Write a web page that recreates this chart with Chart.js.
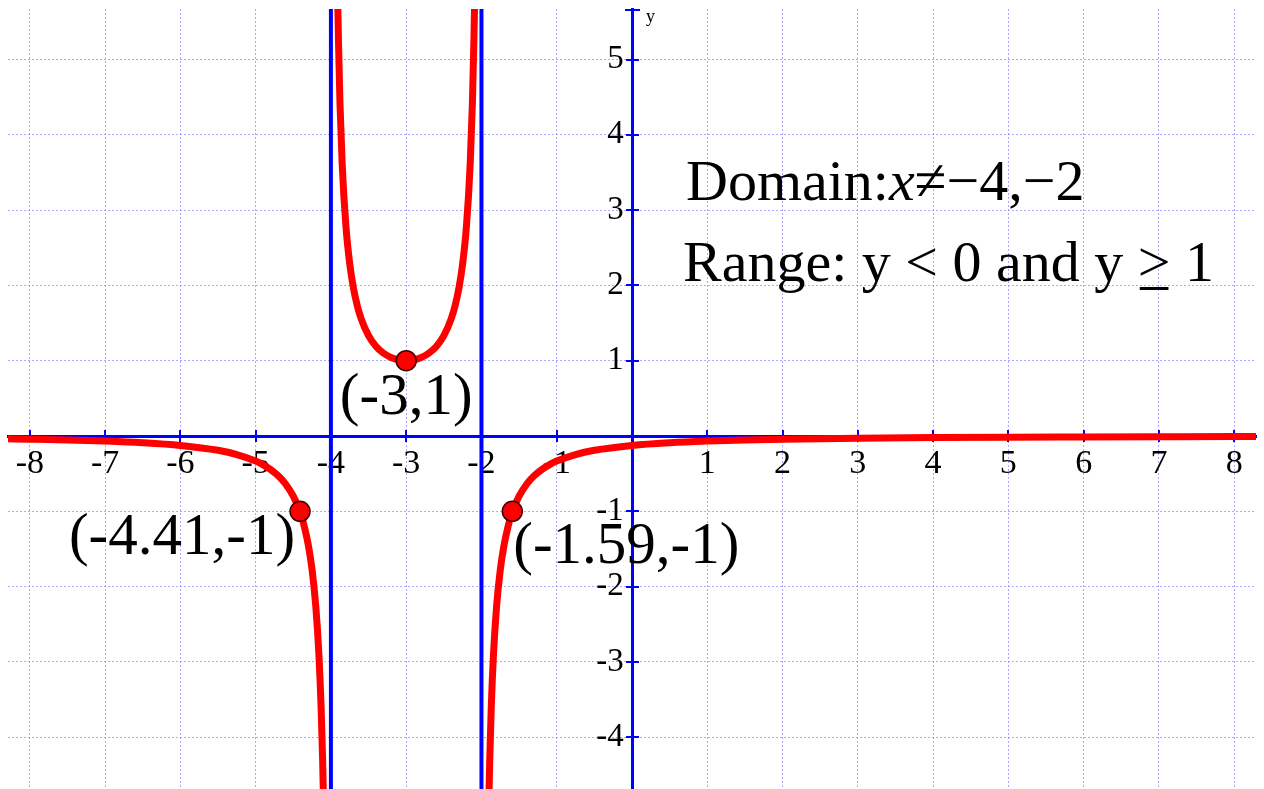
<!DOCTYPE html>
<html><head><meta charset="utf-8">
<script src="https://cdn.jsdelivr.net/npm/chart.js@4.4.1/dist/chart.umd.min.js"></script>
<style>html,body{margin:0;padding:0;background:#fff;overflow:hidden}#wrap{width:1264px;height:789px}</style>
</head><body><div id="wrap"><canvas id="c" width="1264" height="789"></canvas></div>
<script>
// ---- data ----
const leftX  = [-8.3,-8,-7.5,-7,-6.5,-6,-5.5,-5.25,-5,-4.9,-4.8,-4.7,-4.6,-4.5,-4.41,-4.35,-4.3,-4.25,-4.2,-4.16,-4.13,-4.11,-4.1,-4.09];
const leftY  = [-0.037,-0.042,-0.052,-0.067,-0.089,-0.125,-0.19,-0.246,-0.333,-0.383,-0.446,-0.529,-0.641,-0.8,-1,-1.216,-1.449,-1.778,-2.273,-2.894,-3.611,-4.308,-4.762,-5.316];
const midX   = [-3.91,-3.9,-3.88,-3.85,-3.8,-3.75,-3.7,-3.65,-3.6,-3.5,-3.4,-3.3,-3.2,-3.1,-3,-2.9,-2.8,-2.7,-2.6,-2.5,-2.4,-2.35,-2.3,-2.25,-2.2,-2.15,-2.12,-2.1,-2.09];
const midY   = [5.817,5.263,4.433,3.604,2.778,2.286,1.961,1.732,1.563,1.333,1.19,1.099,1.042,1.01,1,1.01,1.042,1.099,1.19,1.333,1.563,1.732,1.961,2.286,2.778,3.604,4.433,5.263,5.817];
const rightX = [-1.91,-1.9,-1.89,-1.87,-1.84,-1.8,-1.75,-1.7,-1.65,-1.59,-1.5,-1.4,-1.3,-1.2,-1.1,-1,-0.75,-0.5,0,0.5,1,1.5,2,3,4,5,6,7,8,8.3];
const rightY = [-5.316,-4.762,-4.308,-3.611,-2.894,-2.273,-1.778,-1.449,-1.216,-1,-0.8,-0.641,-0.529,-0.446,-0.383,-0.333,-0.246,-0.19,-0.125,-0.089,-0.067,-0.052,-0.042,-0.029,-0.021,-0.016,-0.013,-0.01,-0.008,-0.008];
const asymptoteX = [-4, -2];
const asymptoteSpan = [-4.8, 5.9];
const pointX = [-3, -4.41, -1.59];
const pointY = [1, -1, -1];
const pointLabels = ['(-3,1)', '(-4.41,-1)', '(-1.59,-1)'];
const xTickValues = [-8,-7,-6,-5,-4,-3,-2,-1,0,1,2,3,4,5,6,7,8];
const xTickLabels = ['-8','-7','-6','-5','-4','-3','-2','-1','','1','2','3','4','5','6','7','8'];
const yTickValues = [-4,-3,-2,-1,0,1,2,3,4,5];
const yTickLabels = ['-4','-3','-2','-1','','1','2','3','4','5'];
const axisTitleY = 'y';
const domainParts = ['Domain:', 'x', '\u2260\u22124,\u22122'];
const rangeParts = ['Range: y < 0 and y ', '>', ' 1'];

const X_MIN = -8.29, X_MAX = 8.29, Y_MIN = -4.688, Y_MAX = 5.671;
const SERIF = '"Liberation Serif", "Times New Roman", serif';
const RED = '#ff0000', BLUE = '#0000ff', GRID = 'rgba(140,140,255,0.75)';

const zip = (xs, ys) => xs.map((v, i) => ({x: v, y: ys[i]}));
const curve = (xs, ys) => ({data: zip(xs, ys), borderColor: RED, borderWidth: 7, pointRadius: 0,
  cubicInterpolationMode: 'monotone', order: 1, fill: false});
const asym = v => ({data: asymptoteSpan.map(y => ({x: v, y})), borderColor: BLUE, borderWidth: 4,
  pointRadius: 0, order: 2, fill: false});
const noPad = s => { s.paddingTop = 0; s.paddingBottom = 0; s.paddingLeft = 0; s.paddingRight = 0; };

const decor = {
  id: 'decor',
  beforeDatasetsDraw(chart) {
    const {ctx, scales: {x, y}, chartArea} = chart;
    const x0 = x.getPixelForValue(0), y0 = y.getPixelForValue(0);
    ctx.save();
    ctx.strokeStyle = BLUE; ctx.lineWidth = 2;
    ctx.beginPath();
    x.ticks.forEach(t => { if (t.value === 0) return; const p = Math.round(x.getPixelForValue(t.value)); ctx.moveTo(p, y0 - 6); ctx.lineTo(p, y0 + 6); });
    y.ticks.forEach(t => { if (t.value === 0) return; const p = Math.round(y.getPixelForValue(t.value)); ctx.moveTo(x0 - 6, p); ctx.lineTo(x0 + 7, p); });
    ctx.moveTo(x0 - 7, chartArea.top + 1); ctx.lineTo(x0 + 8, chartArea.top + 1);
    ctx.stroke();
    ctx.fillStyle = '#000';
    ctx.textBaseline = 'alphabetic';
    // axis title
    ctx.font = '18px ' + SERIF; ctx.textAlign = 'left';
    ctx.fillText(axisTitleY, x0 + 14, chartArea.top + 13);
    // Domain / Range annotation
    ctx.font = '58px ' + SERIF;
    let cx = 686, by = 200;
    ctx.fillText(domainParts[0], cx, by); cx += ctx.measureText(domainParts[0]).width;
    ctx.font = 'italic 58px ' + SERIF;
    ctx.fillText(domainParts[1], cx, by); cx += ctx.measureText(domainParts[1]).width;
    ctx.font = '58px ' + SERIF;
    ctx.fillText(domainParts[2], cx, by);
    cx = 683; by = 281;
    ctx.fillText(rangeParts[0], cx, by); cx += ctx.measureText(rangeParts[0]).width;
    const gw = ctx.measureText(rangeParts[1]).width;
    ctx.fillText(rangeParts[1], cx, by);
    ctx.fillRect(cx + 2, by + 6, gw - 4, 3);
    cx += gw;
    ctx.fillText(rangeParts[2], cx, by);
    // point labels
    ctx.font = '59px ' + SERIF;
    const offs = [[0, 53, 'center'], [-5, 43, 'right'], [1, 52, 'left']];
    pointLabels.forEach((s, i) => {
      const px = x.getPixelForValue(pointX[i]), py = y.getPixelForValue(pointY[i]);
      ctx.textAlign = offs[i][2];
      ctx.fillText(s, px + offs[i][0], py + offs[i][1]);
    });
    ctx.restore();
  }
};

new Chart(document.getElementById('c'), {
  type: 'line',
  data: {datasets: [
    {data: zip(pointX, pointY), showLine: false, pointRadius: 10, pointBackgroundColor: RED,
     pointBorderColor: '#400000', pointBorderWidth: 1.5, order: 0, clip: false},
    curve(leftX, leftY), curve(midX, midY), curve(rightX, rightY),
    ...asymptoteX.map(asym)
  ]},
  options: {
    responsive: false, animation: false, devicePixelRatio: 1,
    layout: {autoPadding: false, padding: {left: 8, right: 8, top: 9, bottom: 0}},
    plugins: {legend: {display: false}, tooltip: {enabled: false}},
    scales: {
      x: {type: 'linear', min: X_MIN, max: X_MAX, position: {y: 0},
        afterBuildTicks: s => { s.ticks = xTickValues.map(v => ({value: v})); },
        afterFit: noPad,
        grid: {color: GRID, lineWidth: 1, drawTicks: false},
        border: {color: BLUE, width: 3, dash: [2, 2]},
        ticks: {padding: 8, autoSkip: false, maxRotation: 0, color: '#000',
          font: {family: SERIF, size: 34},
          callback: v => { const i = xTickValues.indexOf(v); return i < 0 ? '' : xTickLabels[i]; }}},
      y: {type: 'linear', min: Y_MIN, max: Y_MAX, position: {x: 0},
        afterBuildTicks: s => { s.ticks = yTickValues.map(v => ({value: v})); },
        afterFit: noPad,
        grid: {color: GRID, lineWidth: 1, drawTicks: false},
        border: {color: BLUE, width: 3, dash: [2, 2]},
        ticks: {padding: 8, autoSkip: false, color: '#000',
          font: {family: SERIF, size: 33},
          callback: v => { const i = yTickValues.indexOf(v); return (i < 0 || yTickLabels[i] === '') ? '' : yTickLabels[i] + ' '; }}}
    }
  },
  plugins: [decor]
});
</script></body></html>
